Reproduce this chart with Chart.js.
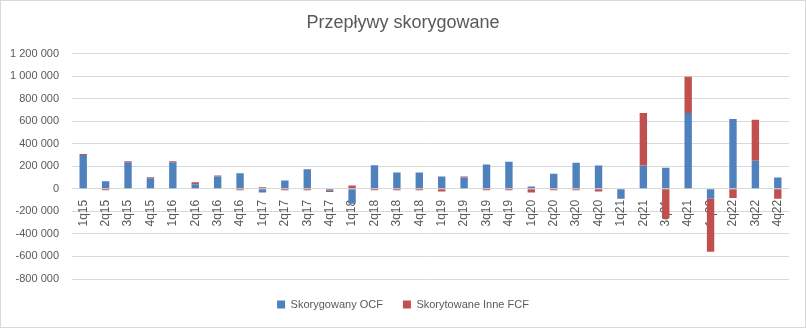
<!DOCTYPE html>
<html>
<head>
<meta charset="utf-8">
<script src="https://cdn.jsdelivr.net/npm/chart.js@4/dist/chart.umd.min.js"></script>
<style>
    body { margin: 0; background: #fff; }
    #wrap { width: 806px; height: 328px; box-sizing: border-box; border: 1px solid #d9d9d9; position: relative; }
</style>
</head>
<body>
<div id="wrap"><canvas id="flowChart"></canvas></div>
<script>
    // Data
    const quarters = ['1q15', '2q15', '3q15', '4q15', '1q16', '2q16', '3q16', '4q16',
        '1q17', '2q17', '3q17', '4q17', '1q18', '2q18', '3q18', '4q18',
        '1q19', '2q19', '3q19', '4q19', '1q20', '2q20', '3q20', '4q20',
        '1q21', '2q21', '3q21', '4q21', '1q22', '2q22', '3q22', '4q22'];

    const ocfValues = [300000, 68000, 235000, 94000, 235000, 41000, 109000, 138000,
        -32000, 74000, 174000, -18000, -132000, 209000, 144000, 144000,
        109000, 100000, 215000, 241000, 20000, 135000, 232000, 206000,
        -88000, 206000, 188000, 673000, -88000, 620000, 250000, 100000];

    const otherFcfValues = [10000, -12000, 9000, 9000, 9000, 18000, 9000, -12000,
        15000, -12000, -12000, -10000, 29000, -12000, -12000, -12000,
        -24000, 10000, -12000, -12000, -32000, -12000, -12000, -24000,
        0, 468000, -262000, 321000, -470000, -82000, 362000, -88000];

    const yMin = -800000;
    const yMax = 1200000;
    const yStep = 200000;

    const textColor = '#595959';
    const gridColor = '#d9d9d9';

    function fmt(v) {
        const s = String(Math.abs(v)).replace(/\B(?=(\d{3})+(?!\d))/g, ' ');
        return (v < 0 ? '-' : '') + s;
    }

    const config = {
        type: 'bar',
        data: {
            labels: quarters,
            datasets: [{
                label: 'Skorygowany OCF',
                data: ocfValues,
                backgroundColor: '#4f81bd',
                barPercentage: 0.33,
                categoryPercentage: 1
            }, {
                label: 'Skorytowane Inne FCF',
                data: otherFcfValues,
                backgroundColor: '#c0504d',
                barPercentage: 0.33,
                categoryPercentage: 1
            }]
        },
        options: {
            responsive: true,
            maintainAspectRatio: false,
            animation: false,
            layout: { padding: { left: 0, right: 0, top: 0, bottom: 7 } },
            plugins: {
                title: {
                    display: true,
                    text: 'Przepływy skorygowane',
                    color: textColor,
                    font: { family: 'Liberation Sans', size: 18, weight: 'normal' },
                    padding: { top: 11, bottom: 20 }
                },
                legend: {
                    position: 'bottom',
                    labels: {
                        color: textColor,
                        font: { family: 'Liberation Sans', size: 11 },
                        boxWidth: 8,
                        boxHeight: 8,
                        padding: 20
                    }
                },
                tooltip: { enabled: false }
            },
            scales: {
                x: {
                    stacked: true,
                    position: { y: 0 },
                    grid: { display: false },
                    border: { display: false },
                    ticks: {
                        color: textColor,
                        font: { family: 'Liberation Sans', size: 12 },
                        minRotation: 90,
                        maxRotation: 90,
                        autoSkip: false,
                        padding: 3
                    },
                    afterFit: (scale) => { scale.height = 0; }
                },
                y: {
                    stacked: true,
                    min: yMin,
                    max: yMax,
                    grid: { color: gridColor, drawTicks: false },
                    border: { display: false },
                    ticks: {
                        stepSize: yStep,
                        color: textColor,
                        font: { family: 'Liberation Sans', size: 11 },
                        padding: 13,
                        callback: (v) => fmt(v)
                    },
                    afterFit: (scale) => { scale.width = 71; }
                },
                // empty right axis, only keeps a margin on the right side
                yRight: {
                    position: 'right',
                    grid: { display: false },
                    border: { display: false },
                    ticks: { display: false },
                    afterFit: (scale) => { scale.width = 16; }
                }
            }
        }
    };

    const ctx = document.getElementById('flowChart').getContext('2d');
    const flowChart = new Chart(ctx, config);
</script>
</body>
</html>
